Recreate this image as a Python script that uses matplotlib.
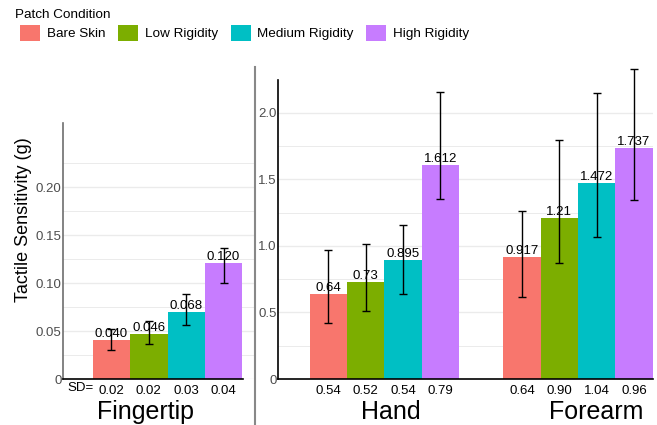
import numpy as np
import matplotlib
matplotlib.use("Agg")
import matplotlib.pyplot as plt
from matplotlib.lines import Line2D

plt.rcParams['font.family'] = ['Liberation Sans', 'DejaVu Sans']

# ---------------- data ----------------
conditions = ["Bare Skin", "Low Rigidity", "Medium Rigidity", "High Rigidity"]
colors = ["#F8766D", "#7CAE00", "#00BFC4", "#C77CFF"]

finger_means = [0.041, 0.047, 0.070, 0.121]
finger_labels = ["0.040", "0.046", "0.068", "0.120"]
finger_lo = [0.030, 0.037, 0.056, 0.100]
finger_hi = [0.052, 0.060, 0.089, 0.137]
finger_sd = ["0.02", "0.02", "0.03", "0.04"]

hand_means = [0.64, 0.73, 0.895, 1.612]
hand_labels = ["0.64", "0.73", "0.895", "1.612"]
hand_lo = [0.42, 0.51, 0.64, 1.35]
hand_hi = [0.968, 1.017, 1.16, 2.157]
hand_sd = ["0.54", "0.52", "0.54", "0.79"]

forearm_means = [0.917, 1.21, 1.472, 1.737]
forearm_labels = ["0.917", "1.21", "1.472", "1.737"]
forearm_lo = [0.62, 0.87, 1.07, 1.345]
forearm_hi = [1.265, 1.795, 2.148, 2.333]
forearm_sd = ["0.64", "0.90", "1.04", "0.96"]

bar_w = 0.193
offsets = (np.arange(4) - 1.5) * bar_w
grid_col = "#ebebeb"
tick_col = "#4d4d4d"

W, H = 657, 425
fig = plt.figure(figsize=(W / 100, H / 100), dpi=100)

# left panel (fingertip), right panel (hand + forearm)
ax1 = fig.add_axes([63 / W, 46 / H, 192 / W, 256 / H])
ax2 = fig.add_axes([278 / W, 46 / H, 375 / W, 299 / H])
ax1.patch.set_alpha(0)
ax2.patch.set_alpha(0)


def draw_group(ax, center, means, labels, lo, hi):
    xs = center + offsets
    bars = []
    for i in range(4):
        b = ax.bar(xs[i], means[i], width=bar_w, color=colors[i], zorder=2,
                   label=conditions[i])
        bars.append(b)
        ax.errorbar(xs[i], means[i],
                    yerr=[[means[i] - lo[i]], [hi[i] - means[i]]],
                    fmt='none', ecolor='black', elinewidth=1, capsize=2.7,
                    capthick=1, zorder=4, clip_on=False)
        ax.text(xs[i], means[i], labels[i], ha='center', va='bottom',
                fontsize=9.5, color='black', zorder=3)
    return xs, bars


def style(ax, ymax, major, minor, ticklabels, spine_col):
    ax.set_ylim(0, ymax)
    ax.set_yticks(major)
    ax.set_yticklabels(ticklabels)
    ax.set_yticks(minor, minor=True)
    ax.grid(axis='y', which='major', color=grid_col, lw=1.0, zorder=0)
    ax.grid(axis='y', which='minor', color=grid_col, lw=0.7, zorder=0)
    ax.tick_params(axis='y', which='both', length=0, pad=1, labelsize=9.5,
                   labelcolor=tick_col)
    ax.tick_params(axis='x', length=0, pad=4, labelsize=9.5, labelcolor='black')
    for s in ['top', 'right']:
        ax.spines[s].set_visible(False)
    ax.spines['left'].set_color(spine_col)
    ax.spines['left'].set_linewidth(1.2)
    ax.spines['bottom'].set_color('black')
    ax.spines['bottom'].set_linewidth(1.2)


# ---- fingertip
xs_f, _ = draw_group(ax1, 0, finger_means, finger_labels, finger_lo, finger_hi)
ax1.set_xlim(-0.540, 0.452)
style(ax1, 0.267, [0, 0.05, 0.10, 0.15, 0.20], np.arange(0.025, 0.26, 0.05),
      ["0", "0.05", "0.10", "0.15", "0.20"], "#6e6e6e")
ax1.spines['bottom'].set_bounds(-0.540, 0.390)
ax1.set_xticks(xs_f)
ax1.set_xticklabels(finger_sd)
ax1.annotate("SD=", xy=(-0.519, 0), xycoords=('data', 'axes fraction'),
             xytext=(0, -9), textcoords='offset pixels', ha='left', va='center',
             fontsize=9.5)
ax1.annotate("Fingertip", xy=(-0.116, 0), xycoords=('data', 'axes fraction'),
             xytext=(0, -33), textcoords='offset pixels', ha='center', va='center',
             fontsize=18)

# ---- hand + forearm
xs_h, bars = draw_group(ax2, 0, hand_means, hand_labels, hand_lo, hand_hi)
xs_a, _ = draw_group(ax2, 1, forearm_means, forearm_labels, forearm_lo, forearm_hi)
ax2.set_xlim(-0.550, 1.388)
style(ax2, 2.248, [0, 0.5, 1.0, 1.5, 2.0], np.arange(0.25, 2.25, 0.5),
      ["0", "0.5", "1.0", "1.5", "2.0"], "black")
ax2.set_xticks(list(xs_h) + list(xs_a))
ax2.set_xticklabels(hand_sd + forearm_sd)
ax2.annotate("Hand", xy=(0.031, 0), xycoords=('data', 'axes fraction'),
             xytext=(0, -33), textcoords='offset pixels', ha='center', va='center',
             fontsize=18)
ax2.annotate("Forearm", xy=(1.096, 0), xycoords=('data', 'axes fraction'),
             xytext=(0, -33), textcoords='offset pixels', ha='center', va='center',
             fontsize=18)

# y label
fig.text(24 / W, 1 - 220 / H, "Tactile Sensitivity (g)", rotation=90,
         ha='center', va='center', fontsize=13)

# separator between panels
fig.add_artist(Line2D([255 / W, 255 / W], [0, 1 - 67 / H],
                      transform=fig.transFigure, color="#888888", lw=1.5))

# legend
fig.text(15 / W, 1 - 15 / H, "Patch Condition", ha='left', va='center',
         fontsize=9.7)
handles = [b.patches[0] for b in bars]
fig.legend(handles, conditions, loc='upper left', bbox_to_anchor=(20 / W, 1 - 25 / H),
           ncol=4, frameon=False, fontsize=9.7, handlelength=1.48, handleheight=1.41,
           handletextpad=0.5, columnspacing=0.95, borderpad=0, borderaxespad=0)

fig.savefig("out.png", dpi=100)
